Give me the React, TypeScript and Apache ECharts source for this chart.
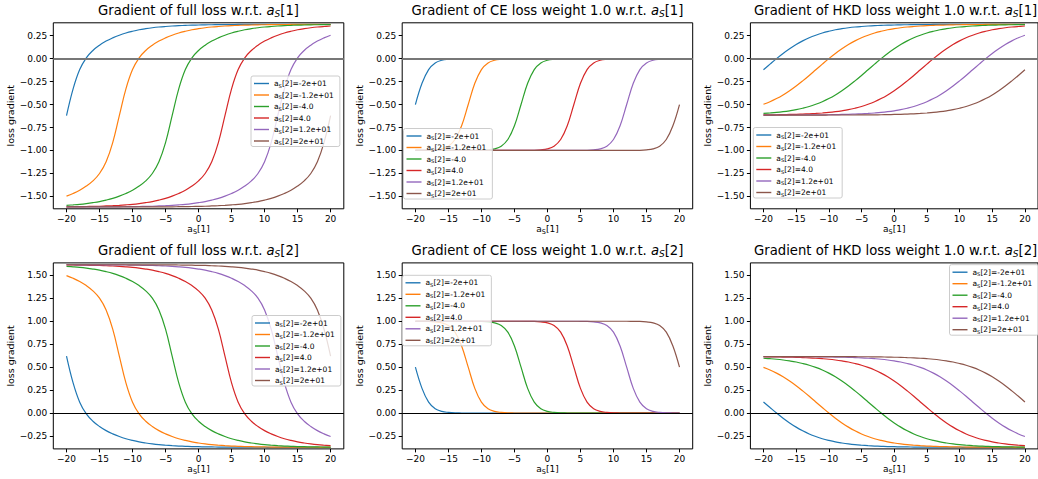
import React, { useEffect, useRef } from 'react';
import * as echarts from 'echarts';

// ---------------- data ----------------
const X = [-20,-19,-18,-17,-16,-15,-14,-13,-12,-11,-10,-9,-8,-7,-6,-5,-4,-3,-2,-1,0,1,2,3,4,5,6,7,8,9,10,11,12,13,14,15,16,17,18,19,20];
const X_TICKS = [-20,-15,-10,-5,0,5,10,15,20];
const Y_TICKS_TOP = [-1.5,-1.25,-1,-0.75,-0.5,-0.25,0,0.25];
const Y_TICKS_BOTTOM = [-0.25,0,0.25,0.5,0.75,1,1.25,1.5];
const A2_VALUES = ['-2e+01','-1.2e+01','-4.0','4.0','1.2e+01','2e+01'];
const COLORS = ['#1f77b4','#ff7f0e','#2ca02c','#d62728','#9467bd','#8c564b'];

// full loss w.r.t. a_S[1]
const F1_M20 = [-0.621,-0.329,-0.119,0.009,0.089,0.146,0.191,0.226,0.255,0.279,0.298,0.314,0.326,0.336,0.344,0.35,0.355,0.359,0.362,0.365,0.366,0.368,0.369,0.37,0.371,0.371,0.372,0.372,0.372,0.372,0.372,0.373,0.373,0.373,0.373,0.373,0.373,0.373,0.373,0.373,0.373];
const F1_M12 = [-1.497,-1.468,-1.433,-1.388,-1.331,-1.251,-1.123,-0.914,-0.621,-0.329,-0.119,0.009,0.089,0.146,0.191,0.226,0.255,0.279,0.298,0.314,0.326,0.336,0.344,0.35,0.355,0.359,0.362,0.365,0.366,0.368,0.369,0.37,0.371,0.371,0.372,0.372,0.372,0.372,0.372,0.373,0.373];
const F1_M4 = [-1.597,-1.592,-1.586,-1.578,-1.568,-1.556,-1.54,-1.521,-1.497,-1.468,-1.433,-1.388,-1.331,-1.251,-1.123,-0.914,-0.621,-0.329,-0.119,0.009,0.089,0.146,0.191,0.226,0.255,0.279,0.298,0.314,0.326,0.336,0.344,0.35,0.355,0.359,0.362,0.365,0.366,0.368,0.369,0.37,0.371];
const F1_P4 = [-1.613,-1.612,-1.611,-1.61,-1.608,-1.607,-1.604,-1.601,-1.597,-1.592,-1.586,-1.578,-1.568,-1.556,-1.54,-1.521,-1.497,-1.468,-1.433,-1.388,-1.331,-1.251,-1.123,-0.914,-0.621,-0.329,-0.119,0.009,0.089,0.146,0.191,0.226,0.255,0.279,0.298,0.314,0.326,0.336,0.344,0.35,0.355];
const F1_P12 = [-1.615,-1.615,-1.614,-1.614,-1.614,-1.614,-1.614,-1.613,-1.613,-1.612,-1.611,-1.61,-1.608,-1.607,-1.604,-1.601,-1.597,-1.592,-1.586,-1.578,-1.568,-1.556,-1.54,-1.521,-1.497,-1.468,-1.433,-1.388,-1.331,-1.251,-1.123,-0.914,-0.621,-0.329,-0.119,0.009,0.089,0.146,0.191,0.226,0.255];
const F1_P20 = [-1.615,-1.615,-1.615,-1.615,-1.615,-1.615,-1.615,-1.615,-1.615,-1.615,-1.614,-1.614,-1.614,-1.614,-1.614,-1.613,-1.613,-1.612,-1.611,-1.61,-1.608,-1.607,-1.604,-1.601,-1.597,-1.592,-1.586,-1.578,-1.568,-1.556,-1.54,-1.521,-1.497,-1.468,-1.433,-1.388,-1.331,-1.251,-1.123,-0.914,-0.621];

// CE loss w.r.t. a_S[1]
const C1_M20 = [-0.5,-0.269,-0.119,-0.047,-0.018,-0.007,-0.002,-0.001,0,0,0,0,0,0,0,0,0,0,0,0,0,0,0,0,0,0,0,0,0,0,0,0,0,0,0,0,0,0,0,0,0];
const C1_M12 = [-1,-0.999,-0.998,-0.993,-0.982,-0.953,-0.881,-0.731,-0.5,-0.269,-0.119,-0.047,-0.018,-0.007,-0.002,-0.001,0,0,0,0,0,0,0,0,0,0,0,0,0,0,0,0,0,0,0,0,0,0,0,0,0];
const C1_M4 = [-1,-1,-1,-1,-1,-1,-1,-1,-1,-0.999,-0.998,-0.993,-0.982,-0.953,-0.881,-0.731,-0.5,-0.269,-0.119,-0.047,-0.018,-0.007,-0.002,-0.001,0,0,0,0,0,0,0,0,0,0,0,0,0,0,0,0,0];
const C1_P4 = [-1,-1,-1,-1,-1,-1,-1,-1,-1,-1,-1,-1,-1,-1,-1,-1,-1,-0.999,-0.998,-0.993,-0.982,-0.953,-0.881,-0.731,-0.5,-0.269,-0.119,-0.047,-0.018,-0.007,-0.002,-0.001,0,0,0,0,0,0,0,0,0];
const C1_P12 = [-1,-1,-1,-1,-1,-1,-1,-1,-1,-1,-1,-1,-1,-1,-1,-1,-1,-1,-1,-1,-1,-1,-1,-1,-1,-0.999,-0.998,-0.993,-0.982,-0.953,-0.881,-0.731,-0.5,-0.269,-0.119,-0.047,-0.018,-0.007,-0.002,-0.001,0];
const C1_P20 = [-1,-1,-1,-1,-1,-1,-1,-1,-1,-1,-1,-1,-1,-1,-1,-1,-1,-1,-1,-1,-1,-1,-1,-1,-1,-1,-1,-1,-1,-1,-1,-1,-1,-0.999,-0.998,-0.993,-0.982,-0.953,-0.881,-0.731,-0.5];

// HKD loss w.r.t. a_S[1]
const K1_M20 = [-0.121,-0.06,0,0.056,0.107,0.153,0.193,0.227,0.255,0.279,0.298,0.314,0.326,0.336,0.344,0.35,0.355,0.359,0.362,0.365,0.366,0.368,0.369,0.37,0.371,0.371,0.372,0.372,0.372,0.372,0.372,0.373,0.373,0.373,0.373,0.373,0.373,0.373,0.373,0.373,0.373];
const K1_M12 = [-0.497,-0.469,-0.435,-0.395,-0.349,-0.298,-0.242,-0.183,-0.121,-0.06,0,0.056,0.107,0.153,0.193,0.227,0.255,0.279,0.298,0.314,0.326,0.336,0.344,0.35,0.355,0.359,0.362,0.365,0.366,0.368,0.369,0.37,0.371,0.371,0.372,0.372,0.372,0.372,0.372,0.373,0.373];
const K1_M4 = [-0.597,-0.592,-0.586,-0.578,-0.568,-0.556,-0.54,-0.521,-0.497,-0.469,-0.435,-0.395,-0.349,-0.298,-0.242,-0.183,-0.121,-0.06,0,0.056,0.107,0.153,0.193,0.227,0.255,0.279,0.298,0.314,0.326,0.336,0.344,0.35,0.355,0.359,0.362,0.365,0.366,0.368,0.369,0.37,0.371];
const K1_P4 = [-0.613,-0.612,-0.611,-0.61,-0.608,-0.607,-0.604,-0.601,-0.597,-0.592,-0.586,-0.578,-0.568,-0.556,-0.54,-0.521,-0.497,-0.469,-0.435,-0.395,-0.349,-0.298,-0.242,-0.183,-0.121,-0.06,0,0.056,0.107,0.153,0.193,0.227,0.255,0.279,0.298,0.314,0.326,0.336,0.344,0.35,0.355];
const K1_P12 = [-0.615,-0.615,-0.614,-0.614,-0.614,-0.614,-0.614,-0.613,-0.613,-0.612,-0.611,-0.61,-0.608,-0.607,-0.604,-0.601,-0.597,-0.592,-0.586,-0.578,-0.568,-0.556,-0.54,-0.521,-0.497,-0.469,-0.435,-0.395,-0.349,-0.298,-0.242,-0.183,-0.121,-0.06,0,0.056,0.107,0.153,0.193,0.227,0.255];
const K1_P20 = [-0.615,-0.615,-0.615,-0.615,-0.615,-0.615,-0.615,-0.615,-0.615,-0.615,-0.614,-0.614,-0.614,-0.614,-0.614,-0.613,-0.613,-0.612,-0.611,-0.61,-0.608,-0.607,-0.604,-0.601,-0.597,-0.592,-0.586,-0.578,-0.568,-0.556,-0.54,-0.521,-0.497,-0.469,-0.435,-0.395,-0.349,-0.298,-0.242,-0.183,-0.121];

// full loss w.r.t. a_S[2]
const F2_M20 = [0.621,0.329,0.119,-0.009,-0.089,-0.146,-0.191,-0.226,-0.255,-0.279,-0.298,-0.314,-0.326,-0.336,-0.344,-0.35,-0.355,-0.359,-0.362,-0.365,-0.366,-0.368,-0.369,-0.37,-0.371,-0.371,-0.372,-0.372,-0.372,-0.372,-0.372,-0.373,-0.373,-0.373,-0.373,-0.373,-0.373,-0.373,-0.373,-0.373,-0.373];
const F2_M12 = [1.497,1.468,1.433,1.388,1.331,1.251,1.123,0.914,0.621,0.329,0.119,-0.009,-0.089,-0.146,-0.191,-0.226,-0.255,-0.279,-0.298,-0.314,-0.326,-0.336,-0.344,-0.35,-0.355,-0.359,-0.362,-0.365,-0.366,-0.368,-0.369,-0.37,-0.371,-0.371,-0.372,-0.372,-0.372,-0.372,-0.372,-0.373,-0.373];
const F2_M4 = [1.597,1.592,1.586,1.578,1.568,1.556,1.54,1.521,1.497,1.468,1.433,1.388,1.331,1.251,1.123,0.914,0.621,0.329,0.119,-0.009,-0.089,-0.146,-0.191,-0.226,-0.255,-0.279,-0.298,-0.314,-0.326,-0.336,-0.344,-0.35,-0.355,-0.359,-0.362,-0.365,-0.366,-0.368,-0.369,-0.37,-0.371];
const F2_P4 = [1.613,1.612,1.611,1.61,1.608,1.607,1.604,1.601,1.597,1.592,1.586,1.578,1.568,1.556,1.54,1.521,1.497,1.468,1.433,1.388,1.331,1.251,1.123,0.914,0.621,0.329,0.119,-0.009,-0.089,-0.146,-0.191,-0.226,-0.255,-0.279,-0.298,-0.314,-0.326,-0.336,-0.344,-0.35,-0.355];
const F2_P12 = [1.615,1.615,1.614,1.614,1.614,1.614,1.614,1.613,1.613,1.612,1.611,1.61,1.608,1.607,1.604,1.601,1.597,1.592,1.586,1.578,1.568,1.556,1.54,1.521,1.497,1.468,1.433,1.388,1.331,1.251,1.123,0.914,0.621,0.329,0.119,-0.009,-0.089,-0.146,-0.191,-0.226,-0.255];
const F2_P20 = [1.615,1.615,1.615,1.615,1.615,1.615,1.615,1.615,1.615,1.615,1.614,1.614,1.614,1.614,1.614,1.613,1.613,1.612,1.611,1.61,1.608,1.607,1.604,1.601,1.597,1.592,1.586,1.578,1.568,1.556,1.54,1.521,1.497,1.468,1.433,1.388,1.331,1.251,1.123,0.914,0.621];

// CE loss w.r.t. a_S[2]
const C2_M20 = [0.5,0.269,0.119,0.047,0.018,0.007,0.002,0.001,0,0,0,0,0,0,0,0,0,0,0,0,0,0,0,0,0,0,0,0,0,0,0,0,0,0,0,0,0,0,0,0,0];
const C2_M12 = [1,0.999,0.998,0.993,0.982,0.953,0.881,0.731,0.5,0.269,0.119,0.047,0.018,0.007,0.002,0.001,0,0,0,0,0,0,0,0,0,0,0,0,0,0,0,0,0,0,0,0,0,0,0,0,0];
const C2_M4 = [1,1,1,1,1,1,1,1,1,0.999,0.998,0.993,0.982,0.953,0.881,0.731,0.5,0.269,0.119,0.047,0.018,0.007,0.002,0.001,0,0,0,0,0,0,0,0,0,0,0,0,0,0,0,0,0];
const C2_P4 = [1,1,1,1,1,1,1,1,1,1,1,1,1,1,1,1,1,0.999,0.998,0.993,0.982,0.953,0.881,0.731,0.5,0.269,0.119,0.047,0.018,0.007,0.002,0.001,0,0,0,0,0,0,0,0,0];
const C2_P12 = [1,1,1,1,1,1,1,1,1,1,1,1,1,1,1,1,1,1,1,1,1,1,1,1,1,0.999,0.998,0.993,0.982,0.953,0.881,0.731,0.5,0.269,0.119,0.047,0.018,0.007,0.002,0.001,0];
const C2_P20 = [1,1,1,1,1,1,1,1,1,1,1,1,1,1,1,1,1,1,1,1,1,1,1,1,1,1,1,1,1,1,1,1,1,0.999,0.998,0.993,0.982,0.953,0.881,0.731,0.5];

// HKD loss w.r.t. a_S[2]
const K2_M20 = [0.121,0.06,0,-0.056,-0.107,-0.153,-0.193,-0.227,-0.255,-0.279,-0.298,-0.314,-0.326,-0.336,-0.344,-0.35,-0.355,-0.359,-0.362,-0.365,-0.366,-0.368,-0.369,-0.37,-0.371,-0.371,-0.372,-0.372,-0.372,-0.372,-0.372,-0.373,-0.373,-0.373,-0.373,-0.373,-0.373,-0.373,-0.373,-0.373,-0.373];
const K2_M12 = [0.497,0.469,0.435,0.395,0.349,0.298,0.242,0.183,0.121,0.06,0,-0.056,-0.107,-0.153,-0.193,-0.227,-0.255,-0.279,-0.298,-0.314,-0.326,-0.336,-0.344,-0.35,-0.355,-0.359,-0.362,-0.365,-0.366,-0.368,-0.369,-0.37,-0.371,-0.371,-0.372,-0.372,-0.372,-0.372,-0.372,-0.373,-0.373];
const K2_M4 = [0.597,0.592,0.586,0.578,0.568,0.556,0.54,0.521,0.497,0.469,0.435,0.395,0.349,0.298,0.242,0.183,0.121,0.06,0,-0.056,-0.107,-0.153,-0.193,-0.227,-0.255,-0.279,-0.298,-0.314,-0.326,-0.336,-0.344,-0.35,-0.355,-0.359,-0.362,-0.365,-0.366,-0.368,-0.369,-0.37,-0.371];
const K2_P4 = [0.613,0.612,0.611,0.61,0.608,0.607,0.604,0.601,0.597,0.592,0.586,0.578,0.568,0.556,0.54,0.521,0.497,0.469,0.435,0.395,0.349,0.298,0.242,0.183,0.121,0.06,0,-0.056,-0.107,-0.153,-0.193,-0.227,-0.255,-0.279,-0.298,-0.314,-0.326,-0.336,-0.344,-0.35,-0.355];
const K2_P12 = [0.615,0.615,0.614,0.614,0.614,0.614,0.614,0.613,0.613,0.612,0.611,0.61,0.608,0.607,0.604,0.601,0.597,0.592,0.586,0.578,0.568,0.556,0.54,0.521,0.497,0.469,0.435,0.395,0.349,0.298,0.242,0.183,0.121,0.06,0,-0.056,-0.107,-0.153,-0.193,-0.227,-0.255];
const K2_P20 = [0.615,0.615,0.615,0.615,0.615,0.615,0.615,0.615,0.615,0.615,0.614,0.614,0.614,0.614,0.614,0.613,0.613,0.612,0.611,0.61,0.608,0.607,0.604,0.601,0.597,0.592,0.586,0.578,0.568,0.556,0.54,0.521,0.497,0.469,0.435,0.395,0.349,0.298,0.242,0.183,0.121];

// ---------------- layout ----------------
const FONT = 'DejaVu Sans';
const COL_LEFT = [53.3, 402.2, 750.4];
const ROW_TOP = [22.8, 262.9];
const PW = 290.5;
const PH = 186;

const PANELS = [
  { title: 'Gradient of full loss w.r.t. ', idx: '[1]', col: 0, row: 0, series: [F1_M20, F1_M12, F1_M4, F1_P4, F1_P12, F1_P20], legend: [251, 76] },
  { title: 'Gradient of CE loss weight 1.0 w.r.t. ', idx: '[1]', col: 1, row: 0, series: [C1_M20, C1_M12, C1_M4, C1_P4, C1_P12, C1_P20], legend: [403.5, 128.5] },
  { title: 'Gradient of HKD loss weight 1.0 w.r.t. ', idx: '[1]', col: 2, row: 0, series: [K1_M20, K1_M12, K1_M4, K1_P4, K1_P12, K1_P20], legend: [753.3, 127.5] },
  { title: 'Gradient of full loss w.r.t. ', idx: '[2]', col: 0, row: 1, series: [F2_M20, F2_M12, F2_M4, F2_P4, F2_P12, F2_P20], legend: [252, 315.5] },
  { title: 'Gradient of CE loss weight 1.0 w.r.t. ', idx: '[2]', col: 1, row: 1, series: [C2_M20, C2_M12, C2_M4, C2_P4, C2_P12, C2_P20], legend: [402.5, 275.3] },
  { title: 'Gradient of HKD loss weight 1.0 w.r.t. ', idx: '[2]', col: 2, row: 1, series: [K2_M20, K2_M12, K2_M4, K2_P4, K2_P12, K2_P20], legend: [949.5, 264.7] },
];

const NAMES = A2_VALUES.map((v) => 'aS[2]=' + v);

const fmtX = (v: number) => (v < 0 ? '\u2212' + String(-v) : String(v));
const fmtY = (v: number) => (v < 0 ? '\u2212' : '') + Math.abs(v).toFixed(2);

function buildOption() {
  const grid: any[] = [];
  const xAxis: any[] = [];
  const yAxis: any[] = [];
  const series: any[] = [];
  const title: any[] = [];
  const legend: any[] = [];

  PANELS.forEach((p, i) => {
    const left = COL_LEFT[p.col];
    const top = ROW_TOP[p.row];
    grid.push({ left, top, width: PW, height: PH, show: true, borderColor: '#000', borderWidth: 1, backgroundColor: 'transparent', containLabel: false });
    xAxis.push({
      type: 'value', gridIndex: i, min: -22, max: 22,
      axisLine: { show: false, onZero: false },
      splitLine: { show: false },
      axisTick: { show: true, length: 3.5, lineStyle: { color: '#000', width: 1 }, customValues: X_TICKS },
      axisLabel: { show: true, customValues: X_TICKS, formatter: fmtX, fontFamily: FONT, fontSize: 9, color: '#000', margin: 6 },
      name: '{n|a}{s|S}{n|[1]}', nameLocation: 'middle', nameGap: 14,
      nameTextStyle: {
        fontFamily: FONT, fontSize: 9, color: '#000',
        rich: { n: { fontFamily: FONT, fontSize: 9, color: '#000' }, s: { fontFamily: FONT, fontSize: 6.5, color: '#000', padding: [5, 0, 0, 0] } },
      },
    });
    const yt = p.row === 0 ? Y_TICKS_TOP : Y_TICKS_BOTTOM;
    yAxis.push({
      type: 'value', gridIndex: i,
      min: p.row === 0 ? -1.635 : -0.39, max: p.row === 0 ? 0.39 : 1.635,
      axisLine: { show: false, onZero: false },
      splitLine: { show: false },
      axisTick: { show: true, length: 3.5, lineStyle: { color: '#000', width: 1 }, customValues: yt },
      axisLabel: { show: true, customValues: yt, formatter: fmtY, fontFamily: FONT, fontSize: 9, color: '#000', margin: 6 },
      name: 'loss gradient', nameLocation: 'middle', nameRotate: 90, nameGap: 33,
      nameTextStyle: { fontFamily: FONT, fontSize: 9.5, color: '#000' },
    });
    title.push({
      text: '{t|' + p.title + '}{i|a}{s|S}{t|' + p.idx + '}',
      left: left + PW / 2, top: p.row === 0 ? 2 : 242, textAlign: 'center',
      padding: 0,
      textStyle: {
        fontFamily: FONT, fontSize: 13.2, color: '#000', fontWeight: 'normal',
        rich: {
          t: { fontFamily: FONT, fontSize: 13.2, color: '#000', fontWeight: 'normal' },
          i: { fontFamily: FONT, fontSize: 13.2, color: '#000', fontStyle: 'italic', fontWeight: 'normal' },
          s: { fontFamily: FONT, fontSize: 9, color: '#000', fontStyle: 'italic', fontWeight: 'normal', padding: [7, 0, 0, 0] },
        },
      },
    });
    legend.push({
      data: NAMES, orient: 'vertical', left: p.legend[0], top: p.legend[1],
      icon: 'rect', itemWidth: 15, itemHeight: 1.4, itemGap: 2.5, selectedMode: false,
      padding: [3, 6, 1, 3],
      backgroundColor: 'rgba(255,255,255,0.8)', borderColor: '#cccccc', borderWidth: 1, borderRadius: 2,
      formatter: (name: string) => '{n|a}{s|S}{n|' + name.slice(2) + '}',
      textStyle: {
        fontFamily: FONT, fontSize: 7.5, color: '#000',
        rich: {
          n: { fontFamily: FONT, fontSize: 7.5, color: '#000', lineHeight: 10 },
          s: { fontFamily: FONT, fontSize: 5.2, color: '#000', lineHeight: 10, padding: [4, 0, 0, 0] },
        },
      },
    });
    p.series.forEach((ys, k) => {
      const s: any = {
        type: 'line', name: NAMES[k], xAxisIndex: i, yAxisIndex: i,
        data: X.map((x, j) => [x, ys[j]]),
        showSymbol: false, symbol: 'none', smooth: 0.4,
        lineStyle: { color: COLORS[k], width: 1.2 },
        itemStyle: { color: COLORS[k] },
        clip: true,
      };
      if (k === 5) {
        s.markLine = {
          silent: true, symbol: ['none', 'none'], label: { show: false },
          lineStyle: p.row === 0 ? { color: '#777777', width: 2, type: 'solid' } : { color: '#000000', width: 1.2, type: 'solid' },
          data: [{ yAxis: 0 }],
        };
      }
      series.push(s);
    });
  });

  return { animation: false, backgroundColor: '#ffffff', grid, xAxis, yAxis, series, title, legend };
}

export default function App() {
  const ref = useRef<HTMLDivElement>(null);
  useEffect(() => {
    const chart = echarts.init(ref.current!, null, { renderer: 'svg' });
    chart.setOption(buildOption() as any);
    return () => chart.dispose();
  }, []);
  return <div ref={ref} style={{ position: 'fixed', left: 0, top: 0, width: 1038, height: 479, background: '#fff' }} />;
}
